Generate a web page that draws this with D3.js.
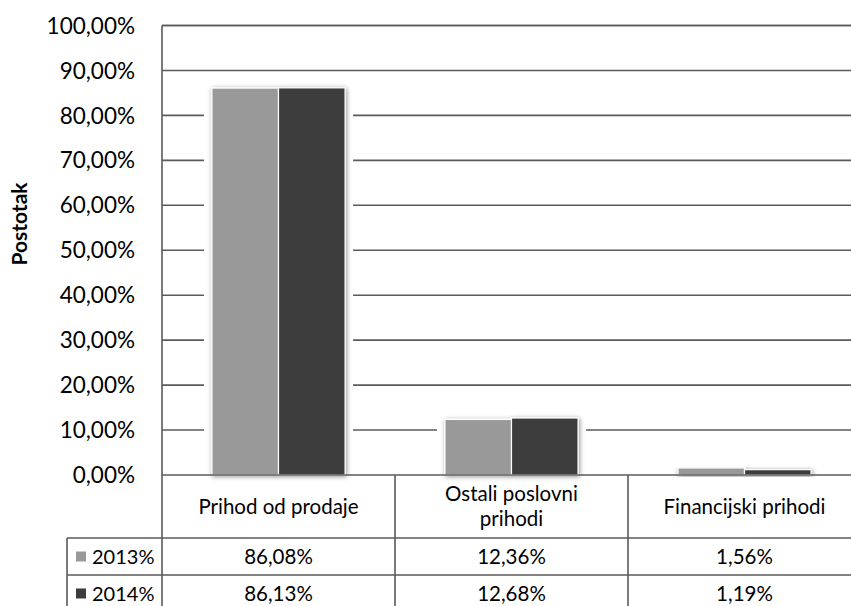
<!DOCTYPE html>
<html>
<head>
<meta charset="utf-8">
<script src="https://cdn.jsdelivr.net/npm/d3@7"></script>
<style>
  body { margin: 0; background: #fff; }
  text { font-family: Lato, "Open Sans", sans-serif; fill: #000; }
</style>
</head>
<body>
<svg id="chart" width="851" height="606"></svg>
<script>
// ** Data **
const categories = ["Prihod od prodaje", "Ostali poslovni prihodi", "Financijski prihodi"];
const categoryLines = [["Prihod od prodaje"], ["Ostali poslovni", "prihodi"], ["Financijski prihodi"]];
const seriesNames = ["2013%", "2014%"];
const values2013 = [86.08, 12.36, 1.56];
const values2014 = [86.13, 12.68, 1.19];
const yTicks = [0, 10, 20, 30, 40, 50, 60, 70, 80, 90, 100];

// ** Layout **
const plotLeft = 162, plotRight = 861, plotTop = 25.5, plotBottom = 475;
const rowHeader = 538, row1 = 575, rowEnd = 612, legendLeft = 67;
const lineColor = "#5a5a5a";
const colors = ["#999999", "#3c3c3c"];

const svg = d3.select("#chart");
const defs = svg.append("defs");
let f = defs.append("filter").attr("id", "shadow")
  .attr("x", "-20%").attr("y", "-20%").attr("width", "140%").attr("height", "140%");
f.append("feGaussianBlur").attr("in", "SourceAlpha").attr("stdDeviation", 2.5).attr("result", "b");
f.append("feOffset").attr("in", "b").attr("dx", 1).attr("dy", 1).attr("result", "o");
f.append("feComponentTransfer").attr("in", "o").attr("result", "s")
  .append("feFuncA").attr("type", "linear").attr("slope", 0.45);
let m = f.append("feMerge");
m.append("feMergeNode").attr("in", "s");
m.append("feMergeNode").attr("in", "SourceGraphic");

const y = d3.scaleLinear().domain([0, 100]).range([plotBottom, plotTop]);
const x0 = d3.scaleBand().domain(categories).range([plotLeft, plotRight]);
const bw = x0.bandwidth();
const groupW = bw / 1.75; // excel gap width 75%
const x1 = d3.scaleBand().domain(seriesNames)
  .range([(bw - groupW) / 2, (bw + groupW) / 2]);

const fmt = v => d3.format(".2f")(v).replace(".", ",") + "%";

// gridlines
svg.append("g").selectAll("line").data(yTicks.filter(t => t > 0)).join("line")
  .attr("x1", plotLeft).attr("x2", plotRight)
  .attr("y1", d => y(d)).attr("y2", d => y(d))
  .attr("stroke", lineColor).attr("stroke-width", 1.6);

// y tick labels
svg.append("g").selectAll("text").data(yTicks).join("text")
  .attr("x", 135).attr("y", d => y(d))
  .attr("dy", "0.36em").attr("text-anchor", "end")
  .style("font-size", "22.5px")
  .text(d => fmt(d));

// y axis title
svg.append("text")
  .attr("transform", `translate(27,224) rotate(-90)`)
  .attr("text-anchor", "middle")
  .style("font-size", "21px").style("font-weight", "bold")
  .text("Postotak");

// bars
const series = [values2013, values2014];
const groups = svg.append("g").selectAll("g").data(categories).join("g")
  .attr("transform", d => `translate(${x0(d)},0)`);

// white halo breaking the gridlines around each group
groups.append("rect")
  .attr("x", (bw - groupW) / 2 - 8).attr("width", groupW + 16)
  .attr("y", (d, i) => y(Math.max(values2013[i], values2014[i])) - 2)
  .attr("height", (d, i) => plotBottom - y(Math.max(values2013[i], values2014[i])) + 2)
  .attr("fill", "#fff");

groups.append("g").attr("filter", "url(#shadow)")
  .selectAll("rect").data((d, i) => seriesNames.map((s, k) => ({ s, v: series[k][i], k })))
  .join("rect")
  .attr("x", d => x1(d.s)).attr("width", x1.bandwidth())
  .attr("y", d => y(d.v)).attr("height", d => plotBottom - y(d.v))
  .attr("fill", d => colors[d.k])
  .attr("stroke", "#fff").attr("stroke-width", 1.2);

// axes / table lines
const lines = [
  [plotLeft, plotTop, plotLeft, rowEnd],
  [plotLeft, plotTop, plotRight, plotTop],
  [plotLeft, plotBottom, plotRight, plotBottom],
  [legendLeft, rowHeader, plotRight, rowHeader],
  [legendLeft, row1, plotRight, row1],
  [legendLeft, rowHeader, legendLeft, rowEnd]
];
categories.slice(1).forEach(c => lines.push([x0(c), plotBottom, x0(c), rowEnd]));
svg.append("g").selectAll("line").data(lines).join("line")
  .attr("x1", d => d[0]).attr("y1", d => d[1])
  .attr("x2", d => d[2]).attr("y2", d => d[3])
  .attr("stroke", lineColor).attr("stroke-width", 1.6);

// table header (categories)
categories.forEach((c, i) => {
  const lns = categoryLines[i];
  const cy = (plotBottom + rowHeader) / 2;
  lns.forEach((t, j) => {
    svg.append("text")
      .attr("x", x0(c) + bw / 2)
      .attr("y", cy + (j - (lns.length - 1) / 2) * 25)
      .attr("dy", "0.36em").attr("text-anchor", "middle")
      .style("font-size", "20.5px")
      .text(t);
  });
});

// table rows
const rowTops = [rowHeader, row1];
seriesNames.forEach((s, k) => {
  const cy = rowTops[k] + 18.5;
  svg.append("rect").attr("x", 76).attr("y", cy - 5).attr("width", 10).attr("height", 10)
    .attr("fill", colors[k]);
  svg.append("text").attr("x", 92).attr("y", cy).attr("dy", "0.36em")
    .style("font-size", "20px").text(s);
  categories.forEach((c, i) => {
    svg.append("text").attr("x", x0(c) + bw / 2).attr("y", cy).attr("dy", "0.36em")
      .attr("text-anchor", "middle").style("font-size", "20.5px")
      .text(fmt(series[k][i]));
  });
});
</script>
</body>
</html>
